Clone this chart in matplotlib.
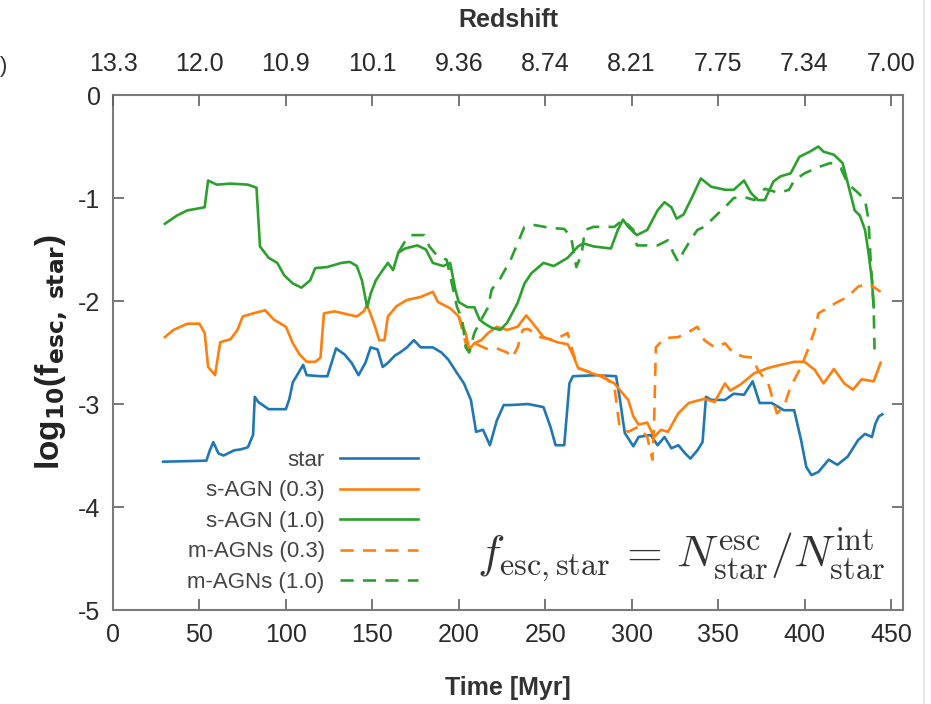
import numpy as np
import matplotlib
matplotlib.use("Agg")
import matplotlib.pyplot as plt
from matplotlib.lines import Line2D

plt.rcParams['font.family'] = ['Liberation Sans', 'DejaVu Sans']
plt.rcParams['axes.unicode_minus'] = False

# Time [Myr] and log10(f_esc,star)
star_t = [29, 54, 56, 58, 61, 64, 70, 74, 78, 81, 82, 84, 90, 100, 102, 104, 110, 112, 120, 124,
          129, 134, 138, 142, 146, 149, 153, 156, 159, 163, 166, 170, 174, 178, 185, 190, 194, 199,
          203, 207, 210, 214, 218, 222, 226, 230, 240, 249, 253, 256, 261, 264, 266, 280, 291, 293,
          296, 301, 304, 311, 315, 319, 323, 327, 331, 334, 338, 341, 343, 346, 354, 359, 365, 370,
          374, 381, 388, 394, 398, 401, 404, 408, 414, 419, 425, 431, 435, 439, 441, 443, 445]
star_y = [-3.56, -3.55, -3.45, -3.37, -3.48, -3.50, -3.45, -3.44, -3.42, -3.3, -2.93, -2.98, -3.05,
          -3.05, -2.95, -2.79, -2.62, -2.72, -2.73, -2.73, -2.46, -2.52, -2.6, -2.72, -2.6, -2.45,
          -2.47, -2.64, -2.6, -2.53, -2.5, -2.45, -2.38, -2.45, -2.45, -2.5, -2.57, -2.70, -2.8,
          -2.96, -3.27, -3.25, -3.40, -3.16, -3.01, -3.01, -3.0, -3.03, -3.22, -3.40, -3.40, -2.80,
          -2.73, -2.72, -2.73, -2.93, -3.28, -3.41, -3.32, -3.3, -3.40, -3.32, -3.43, -3.40, -3.48,
          -3.53, -3.45, -3.37, -2.93, -2.96, -2.96, -2.90, -2.91, -2.78, -2.99, -2.99, -3.06, -3.06,
          -3.35, -3.61, -3.69, -3.66, -3.54, -3.59, -3.51, -3.35, -3.29, -3.32, -3.19, -3.12, -3.1]

sagn03_t = [30, 35, 43, 50, 53, 55, 59, 62, 68, 72, 75, 81, 88, 93, 100, 104, 108, 112, 117, 120,
            122, 128, 141, 145, 147, 151, 154, 157, 159, 164, 170, 178, 185, 188, 195, 200, 204,
            206, 209, 213, 217, 222, 228, 234, 239, 243, 249, 257, 263, 266, 269, 275, 282, 290,
            298, 301, 304, 309, 313, 317, 321, 327, 333, 342, 348, 354, 357, 363, 371, 379, 386,
            394, 400, 406, 411, 417, 423, 428, 433, 440, 444]
sagn03_y = [-2.35, -2.28, -2.22, -2.22, -2.31, -2.64, -2.72, -2.40, -2.37, -2.28, -2.15, -2.12,
            -2.09, -2.18, -2.25, -2.41, -2.52, -2.59, -2.59, -2.55, -2.12, -2.10, -2.15, -2.10,
            -2.04, -2.22, -2.38, -2.38, -2.15, -2.05, -1.99, -1.96, -1.91, -2.01, -2.07, -2.15,
            -2.31, -2.47, -2.41, -2.38, -2.31, -2.25, -2.28, -2.25, -2.14, -2.22, -2.35, -2.40,
            -2.42, -2.52, -2.65, -2.69, -2.73, -2.80, -2.96, -3.12, -3.20, -3.18, -3.32, -3.25,
            -3.27, -3.09, -2.99, -2.95, -2.98, -2.80, -2.87, -2.81, -2.70, -2.65, -2.62, -2.59,
            -2.59, -2.67, -2.80, -2.66, -2.80, -2.86, -2.76, -2.78, -2.60]

sagn10_t = [30, 37, 43, 53, 55, 60, 68, 78, 83, 85, 90, 95, 99, 104, 109, 114, 117, 124, 132, 137,
            141, 144, 147, 149, 152, 156, 159, 162, 165, 169, 176, 181, 185, 191, 195, 198, 200,
            205, 209, 212, 215, 219, 224, 228, 234, 238, 242, 249, 255, 263, 269, 272, 278, 288,
            292, 295, 298, 303, 309, 315, 319, 323, 326, 330, 335, 340, 346, 354, 359, 365, 369,
            373, 377, 382, 386, 392, 397, 403, 408, 411, 417, 422, 426, 429, 432, 435, 437, 439, 440]
sagn10_y = [-1.25, -1.17, -1.12, -1.09, -0.83, -0.87, -0.86, -0.87, -0.90, -1.47, -1.58, -1.63,
            -1.75, -1.83, -1.87, -1.80, -1.68, -1.67, -1.63, -1.62, -1.66, -1.80, -2.06, -1.93,
            -1.80, -1.70, -1.63, -1.70, -1.53, -1.49, -1.46, -1.50, -1.63, -1.66, -1.63, -1.89,
            -2.01, -2.06, -2.06, -2.18, -2.22, -2.26, -2.28, -2.21, -2.02, -1.83, -1.73, -1.63,
            -1.66, -1.58, -1.47, -1.44, -1.47, -1.49, -1.31, -1.21, -1.28, -1.36, -1.31, -1.12,
            -1.04, -1.09, -1.20, -1.16, -0.99, -0.81, -0.89, -0.92, -0.92, -0.83, -0.95, -1.02,
            -1.02, -0.84, -0.79, -0.76, -0.60, -0.55, -0.50, -0.55, -0.58, -0.66, -0.92, -1.12,
            -1.17, -1.31, -1.53, -1.80, -2.06]

magn03_t = [200, 205, 209, 213, 217, 222, 228, 231, 234, 237, 240, 247, 255, 263, 265, 269, 276,
            284, 290, 293, 298, 304, 309, 312, 313, 314, 319, 327, 333, 338, 342, 348, 354, 359,
            365, 370, 373, 379, 384, 388, 392, 398, 402, 406, 408, 414, 419, 425, 431, 437, 444]
magn03_y = [-2.15, -2.47, -2.41, -2.44, -2.47, -2.46, -2.50, -2.55, -2.45, -2.28, -2.27, -2.35,
            -2.38, -2.31, -2.44, -2.65, -2.69, -2.73, -2.83, -3.22, -3.27, -3.22, -3.32, -3.54,
            -3.16, -2.45, -2.36, -2.35, -2.30, -2.25, -2.38, -2.45, -2.41, -2.51, -2.54, -2.55,
            -2.67, -2.80, -3.09, -3.03, -2.83, -2.64, -2.47, -2.28, -2.12, -2.06, -2.01, -1.96,
            -1.86, -1.83, -1.91]

magn10_t = [165, 170, 172, 180, 183, 187, 193, 199, 202, 204, 206, 209, 213, 217, 219, 224, 230,
            234, 238, 243, 253, 261, 265, 268, 271, 273, 278, 290, 295, 301, 303, 309, 315, 321,
            324, 327, 330, 334, 338, 342, 350, 354, 359, 365, 371, 377, 385, 391, 394, 400, 408,
            415, 421, 425, 431, 435, 437, 438, 440, 440.5]
magn10_y = [-1.53, -1.39, -1.36, -1.36, -1.47, -1.55, -1.60, -2.06, -2.18, -2.45, -2.50, -2.31,
            -2.18, -2.06, -1.89, -1.78, -1.60, -1.44, -1.28, -1.26, -1.29, -1.30, -1.38, -1.67,
            -1.55, -1.31, -1.28, -1.28, -1.21, -1.31, -1.46, -1.46, -1.46, -1.41, -1.53, -1.62,
            -1.52, -1.41, -1.31, -1.28, -1.15, -1.09, -1.00, -0.99, -1.02, -0.91, -0.95, -0.92,
            -0.83, -0.76, -0.70, -0.66, -0.71, -0.86, -0.95, -1.02, -1.21, -1.53, -2.06, -2.47]

time_ticks = [0, 50, 100, 150, 200, 250, 300, 350, 400, 450]
redshift_labels = ['13.3', '12.0', '10.9', '10.1', '9.36', '8.74', '8.21', '7.75', '7.34', '7.00']
y_ticks = [0, -1, -2, -3, -4, -5]

c_blue, c_orange, c_green = '#1f77b4', '#ff7f0e', '#2ca02c'
dash = (0, (5, 3.5))
lw = 1.9

fig = plt.figure(figsize=(9.31, 7.04), dpi=100)
ax = fig.add_axes([0.1214, 0.1335, 0.8486, 0.7315])

ax.plot(star_t, star_y, color=c_blue, lw=lw, label='star')
ax.plot(sagn03_t, sagn03_y, color=c_orange, lw=lw, label='s-AGN (0.3)')
ax.plot(sagn10_t, sagn10_y, color=c_green, lw=lw, label='s-AGN (1.0)')
ax.plot(magn03_t, magn03_y, color=c_orange, lw=lw, ls=dash, label='m-AGNs (0.3)')
ax.plot(magn10_t, magn10_y, color=c_green, lw=lw, ls=dash, label='m-AGNs (1.0)')

ax.set_xlim(0, 457)
ax.set_ylim(-5, 0)
ax.set_xticks(time_ticks)
ax.set_yticks(y_ticks)
ax.set_yticklabels([str(v) for v in y_ticks])
ax.tick_params(direction='in', length=8, width=1.2, colors='#606060',
               labelcolor='#2a2a2a', labelsize=18, top=False, right=True)
ax.tick_params(axis='x', pad=9)
ax.tick_params(axis='y', pad=9)
for sp in ax.spines.values():
    sp.set_color('#7a7a7a')
    sp.set_linewidth(1.5)

ax.set_xlabel('Time [Myr]', fontsize=18, fontweight='bold', color='#333333', labelpad=21)
ax.set_ylabel(r'log$_{\mathbf{10}}$(f$_{\mathbf{esc,\ star}}$)', fontsize=24, fontweight='bold',
              color='#222222', labelpad=6)

# redshift axis on top
ax2 = ax.twiny()
ax2.set_xlim(ax.get_xlim())
ax2.set_xticks(time_ticks)
ax2.set_xticklabels(redshift_labels)
ax2.tick_params(direction='in', length=8, width=1.2, colors='#606060',
                labelcolor='#2a2a2a', labelsize=18, pad=14)
ax2.set_xlabel('Redshift', fontsize=18, fontweight='bold', color='#333333', labelpad=18)
for sp in ax2.spines.values():
    sp.set_visible(False)

leg = ax.legend(loc='lower right', bbox_to_anchor=(0.386, 0.033), frameon=False,
                markerfirst=False, fontsize=16, handlelength=3.5, handletextpad=0.7,
                labelspacing=0.43, borderpad=0, borderaxespad=0)
for txt in leg.get_texts():
    txt.set_color('#444444')

ax.text(0.977, 0.083, r'$f_{\rm esc,star}\,=\,N^{\rm esc}_{\rm star}/N^{\rm int}_{\rm star}$',
        transform=ax.transAxes, ha='right', va='baseline', fontsize=33,
        math_fontfamily='cm', color='#333333')

fig.text(0.0, 0.905, ')', fontsize=16, color='#333333', ha='left', va='center')

# faint page edge on the right
fig.add_artist(Line2D([0.992, 0.992], [0.0, 1.0], transform=fig.transFigure,
                      color='#e4e4e4', lw=1.2))

fig.savefig('out.png', dpi=100)
